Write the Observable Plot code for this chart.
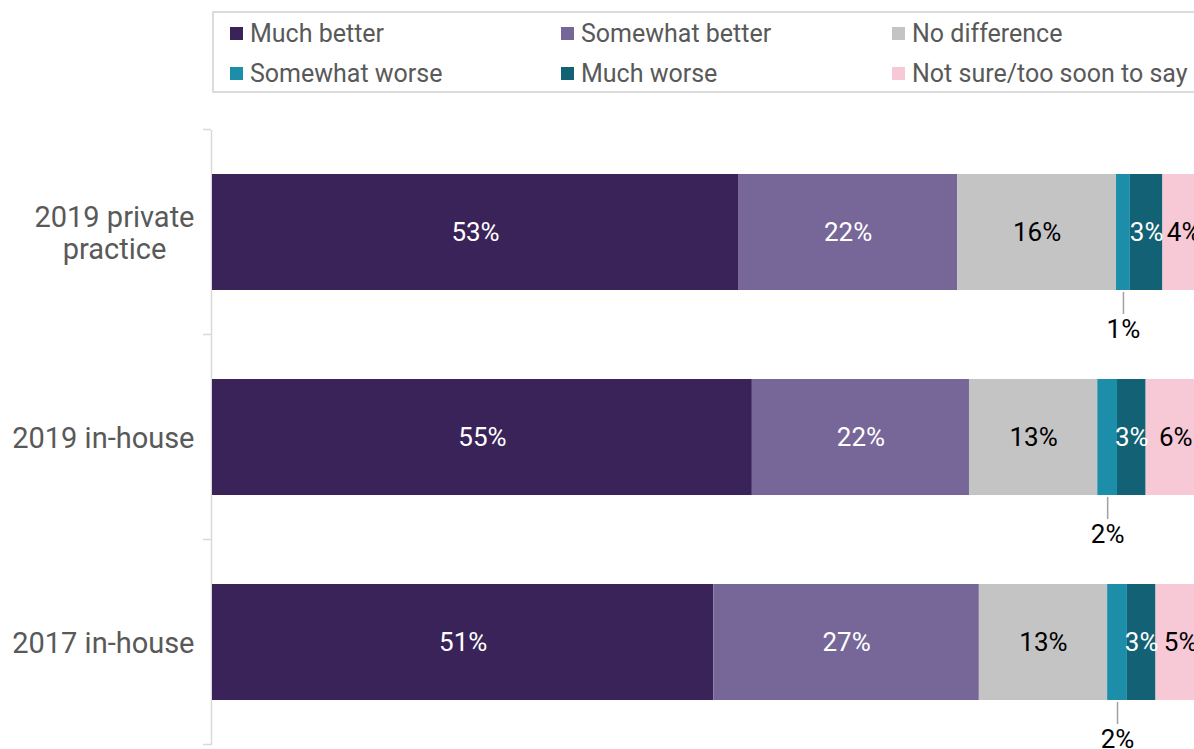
<!DOCTYPE html>
<html>
<head>
<meta charset="utf-8">
<script src="https://cdn.jsdelivr.net/npm/d3@7"></script>
<script src="https://cdn.jsdelivr.net/npm/@observablehq/plot@0.6"></script>
<style>
  html, body { margin: 0; padding: 0; background: #fff; overflow: hidden; }
  body { width: 1194px; height: 749px; position: relative; font-family: Roboto, sans-serif; }
  #legendWrap { position: relative; height: 100px; }
  #legend {
    position: absolute; left: 212px; top: 11px; width: 1010px; height: 82px;
    box-sizing: border-box; border: 2px solid #dcdcdc;
    display: grid; grid-template-columns: 331px 331px 331px; grid-template-rows: 40px 40px;
    padding-left: 16px;
  }
  .item { display: flex; align-items: center; font-size: 25px; color: #595959; white-space: nowrap; }
  .sw { width: 13px; height: 13px; margin-right: 7px; flex: none; }
  #chart svg { display: block; }
</style>
</head>
<body>
<div id="legendWrap"><div id="legend"></div></div>
<div id="chart"></div>
<script>
// ---- data ----
const groups = ["2019 private practice", "2019 in-house", "2017 in-house"];
const responses = ["Much better", "Somewhat better", "No difference", "Somewhat worse", "Much worse", "Not sure/too soon to say"];
const colors = ["#3a2359", "#776799", "#c4c4c4", "#1c8eaa", "#136174", "#f7c8d6"];
const muchBetter     = [53.3, 54.7, 50.8];
const somewhatBetter = [22.2, 22.0, 26.9];
const noDifference   = [16.1, 13.0, 13.0];
const somewhatWorse  = [1.4, 2.0, 2.0];
const muchWorse      = [3.3, 2.9, 2.9];
const notSure        = [4.2, 6.0, 5.0];
const whiteLabel = ["Much better", "Somewhat better", "Much worse"];
const blackLabel = ["No difference", "Not sure/too soon to say"];
const outsideLabel = ["Somewhat worse"];

const series = [muchBetter, somewhatBetter, noDifference, somewhatWorse, muchWorse, notSure];
const table = [];
groups.forEach((g, i) => responses.forEach((r, j) => table.push({group: g, response: r, value: series[j][i]})));

// ---- legend ----
const legend = document.getElementById("legend");
responses.forEach((r, j) => {
  const it = document.createElement("div");
  it.className = "item";
  const sw = document.createElement("span");
  sw.className = "sw";
  sw.style.background = colors[j];
  it.appendChild(sw);
  it.appendChild(document.createTextNode(r));
  legend.appendChild(it);
});

const pct = d => `${Math.round(d.value)}%`;
const stackOpts = extra => Plot.stackX({x: "value", y: "group", ...extra});

// band boundary ticks on the left of the axis line
const bandTicks = (index, scales, values, dims) => {
  const y = scales.y;
  const bw = typeof y.bandwidth === "function" ? y.bandwidth() : y.bandwidth;
  const step = typeof y.step === "function" ? y.step() : bw / (1 - 0.434);
  const g = d3.create("svg:g").attr("stroke", "#d9d9d9").attr("stroke-width", 1.5);
  const ys = groups.map(d => y(d) + bw / 2 - step / 2);
  ys.push(y(groups[groups.length - 1]) + bw / 2 + step / 2);
  ys.forEach(v => g.append("line")
    .attr("x1", dims.marginLeft - 9).attr("x2", dims.marginLeft - 1)
    .attr("y1", v).attr("y2", v));
  return g.node();
};

const plot = Plot.plot({
  width: 1194,
  height: 649,
  marginLeft: 212,
  marginRight: 0,
  marginTop: 30,
  marginBottom: 4,
  style: {fontFamily: "Roboto, sans-serif", background: "transparent", overflow: "visible"},
  x: {domain: [0, 99.5], axis: null},
  y: {domain: groups, paddingInner: 0.434, paddingOuter: 0.217, label: null, axis: null},
  color: {domain: responses, range: colors},
  marks: [
    Plot.ruleX([0], {stroke: "#d9d9d9", strokeWidth: 1.5, dx: -1}),
    bandTicks,
    Plot.barX(table, stackOpts({fill: "response"})),
    Plot.text(table, Plot.filter(d => whiteLabel.includes(d.response),
      stackOpts({text: pct, fill: "white", fontSize: 26}))),
    Plot.text(table, Plot.filter(d => blackLabel.includes(d.response),
      stackOpts({text: pct, fill: "black", fontSize: 26}))),
    Plot.tickX(table, Plot.filter(d => outsideLabel.includes(d.response),
      stackOpts({stroke: "#a0a0a0", strokeWidth: 1.5, insetTop: 118, insetBottom: -24}))),
    Plot.text(table, Plot.filter(d => outsideLabel.includes(d.response),
      stackOpts({text: pct, fill: "black", fontSize: 26, dy: 97}))),
    Plot.axisY({
      tickSize: 0, tickPadding: 18, fontSize: 29, fill: "#595959",
      lineHeight: 1.1,
      tickFormat: d => d === "2019 private practice" ? "2019 private\npractice" : d
    })
  ]
});
document.getElementById("chart").appendChild(plot);

// center multi-line category labels on their widest line
d3.select(plot).selectAll("text").each(function() {
  const tspans = this.querySelectorAll("tspan");
  if (tspans.length > 1) {
    const w = this.getBBox().width;
    this.setAttribute("text-anchor", "middle");
    tspans.forEach(t => t.setAttribute("x", -w / 2));
  }
});
</script>
</body>
</html>
